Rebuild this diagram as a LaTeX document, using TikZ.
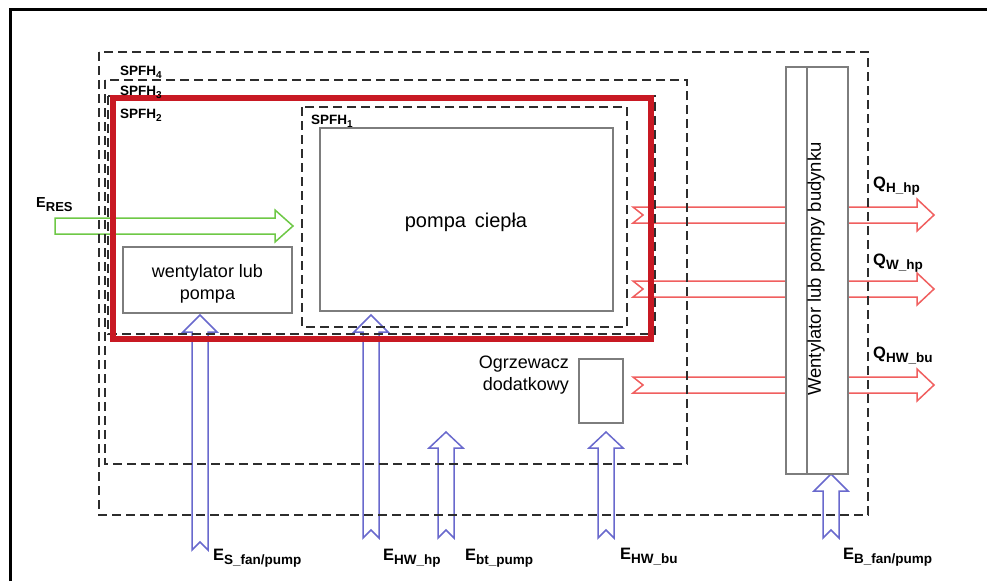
\documentclass[tikz,border=0pt]{standalone}
\usepackage{fontspec}
\setmainfont{Liberation Sans}
\newcommand\lbl[4]{{\fontsize{#3}{#3}\selectfont\bfseries #1}\raisebox{-4pt}{\fontsize{#4}{#4}\selectfont\bfseries #2}}
\newcommand\spfh[1]{{\fontsize{13.5}{13.5}\selectfont\bfseries SPFH\raisebox{-3pt}{\fontsize{10}{10}\selectfont #1}}}
\definecolor{dashgray}{RGB}{45,45,45}
\definecolor{boxred}{RGB}{200,25,35}
\definecolor{arrred}{RGB}{240,95,95}
\definecolor{arrgreen}{RGB}{110,200,70}
\definecolor{arrblue}{RGB}{105,105,205}
\definecolor{boxgray}{RGB}{125,125,125}
\tikzset{
  sysbox/.style={draw=dashgray, line width=2.8pt, dash pattern=on 9pt off 5pt},
  redbox/.style={draw=boxred, line width=6pt},
  compbox/.style={draw=boxgray, line width=1.6pt},
  redarrow/.style={draw=arrred, line width=1.5pt, line join=miter},
  greenarrow/.style={draw=arrgreen, line width=1.5pt, line join=miter},
  bluearrow/.style={draw=arrblue, line width=1.5pt, line join=miter},
  lab/.style={inner sep=0pt, anchor=base west},
  boxtext/.style={inner sep=0pt, align=center, font=\fontsize{18}{22}\selectfont}
}
\begin{document}
\begin{tikzpicture}[x=1pt,y=-1pt]
\useasboundingbox (0,0) rectangle (987,581);
\fill[white] (0,0) rectangle (987,581);
% outer frame
\draw[line width=3pt] (10,581) -- (10,9) -- (987,9);

% red output arrows (behind building box)
\foreach \c in {215,289,385}{
  \draw[redarrow] (633,\c-8) -- (917,\c-8) -- (917,\c-16) -- (934,\c) -- (917,\c+16) -- (917,\c+8) -- (633,\c+8) -- (643,\c) -- cycle;
}
% green input arrow
\draw[greenarrow] (55,218) -- (275,218) -- (275,210) -- (293,226) -- (275,242) -- (275,234) -- (55,234) -- cycle;
% blue input arrows: cx / tip / base / tail
\foreach \cx/\ty/\by/\yo in {200/315/332/550, 371/315/332/538, 446/432/448/538, 606/432/448/538, 831/474/491/538}{
  \draw[bluearrow] (\cx-8,\yo) -- (\cx-8,\by) -- (\cx-17,\by) -- (\cx,\ty) -- (\cx+17,\by) -- (\cx+8,\by) -- (\cx+8,\yo) -- (\cx,\yo-8) -- cycle;
}

% system boundaries
\draw[sysbox] (99,52) rectangle (868,515);
\draw[sysbox] (105,80) rectangle (687,464);
\draw[sysbox] (108,96) rectangle (655,334);
\draw[redbox] (113,98) rectangle (651,339);
\draw[sysbox] (302,107) rectangle (627,327);

% components
\node[compbox, minimum width=293pt, minimum height=183pt] (hp) at (466.5,219.5) {};
\node[boxtext, font=\fontsize{20}{24}\selectfont] at (466,222) {pompa\, ciepła};
\node[compbox, minimum width=169pt, minimum height=66pt] (fan) at (207.5,280) {};
\node[boxtext] at (207.5,284) {wentylator lub\\pompa};
\node[compbox, minimum width=44pt, minimum height=64pt] (aux) at (601,391) {};
\node[boxtext, align=right, anchor=east] at (569,375) {Ogrzewacz\\dodatkowy};
\node[compbox, fill=white, minimum width=62pt, minimum height=407pt] (bld) at (817,270.5) {};
\draw[compbox] (807,67) -- (807,474);
\node[inner sep=0pt, rotate=90, font=\fontsize{18.5}{18.5}\selectfont] at (816,269) {Wentylator lub pompy budynku};

% SPFH labels
\node[lab] at (120,75) {\spfh{4}};
\node[lab] at (120,95) {\spfh{3}};
\node[lab] at (120,118) {\spfh{2}};
\node[lab] at (311,124) {\spfh{1}};

% energy labels
\node[lab] at (36,207) {\lbl{E}{RES}{14.5}{13}};
\node[lab] at (873,188) {\lbl{Q}{H\_hp}{16.5}{13.5}};
\node[lab] at (873,265) {\lbl{Q}{W\_hp}{16.5}{13.5}};
\node[lab] at (873,358) {\lbl{Q}{HW\_bu}{16.5}{13.5}};
\node[lab] at (213,560) {\lbl{E}{S\_fan/pump}{16.5}{13.5}};
\node[lab] at (383,560) {\lbl{E}{HW\_hp}{16.5}{13.5}};
\node[lab] at (465,560) {\lbl{E}{bt\_pump}{16.5}{13.5}};
\node[lab] at (620,559) {\lbl{E}{HW\_bu}{16.5}{13.5}};
\node[lab] at (843,559) {\lbl{E}{B\_fan/pump}{16.5}{13.5}};
\end{tikzpicture}
\end{document}
